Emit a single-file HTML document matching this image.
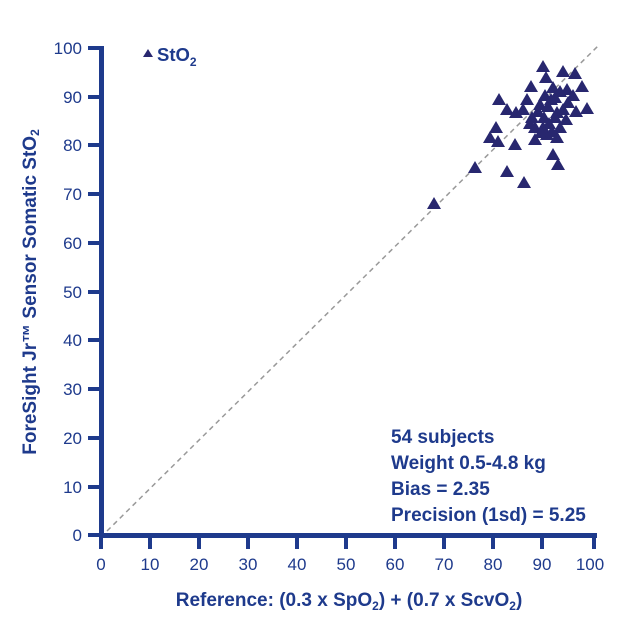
<!DOCTYPE html>
<html><head><meta charset="utf-8"><style>
html,body{margin:0;padding:0;background:#fff;}
svg{display:block;font-family:"Liberation Sans",sans-serif;}
</style></head><body>
<svg width="624" height="624" viewBox="0 0 624 624" xmlns="http://www.w3.org/2000/svg">
<defs><polygon id="t" points="0,-7 7,5 -7,5" fill="#28276f"/></defs>
<line x1="107" y1="531" x2="600" y2="44" stroke="#999" stroke-width="1.5" stroke-dasharray="5,4"/>
<g fill="#1e3a8c">
<rect x="99" y="46" width="5" height="492"/>
<rect x="99" y="533" width="498" height="5"/>
</g>
<g stroke="#1e3a8c" stroke-width="4">
<line x1="88" y1="48" x2="101" y2="48"/><line x1="88" y1="97" x2="101" y2="97"/>
<line x1="88" y1="145" x2="101" y2="145"/><line x1="88" y1="194" x2="101" y2="194"/>
<line x1="88" y1="243" x2="101" y2="243"/><line x1="88" y1="292" x2="101" y2="292"/>
<line x1="88" y1="340" x2="101" y2="340"/><line x1="88" y1="389" x2="101" y2="389"/>
<line x1="88" y1="438" x2="101" y2="438"/><line x1="88" y1="487" x2="101" y2="487"/>
<line x1="88" y1="535" x2="101" y2="535"/>
<line x1="101" y1="535" x2="101" y2="549"/><line x1="150" y1="535" x2="150" y2="549"/>
<line x1="199" y1="535" x2="199" y2="549"/><line x1="248" y1="535" x2="248" y2="549"/>
<line x1="297" y1="535" x2="297" y2="549"/><line x1="346" y1="535" x2="346" y2="549"/>
<line x1="395" y1="535" x2="395" y2="549"/><line x1="444" y1="535" x2="444" y2="549"/>
<line x1="493" y1="535" x2="493" y2="549"/><line x1="542" y1="535" x2="542" y2="549"/>
<line x1="594" y1="535" x2="594" y2="549"/>
</g>
<g fill="#1e3a8c" font-size="17" text-anchor="end">
<text x="82" y="54">100</text><text x="82" y="103">90</text><text x="82" y="151">80</text>
<text x="82" y="200">70</text><text x="82" y="249">60</text><text x="82" y="298">50</text>
<text x="82" y="346">40</text><text x="82" y="395">30</text><text x="82" y="444">20</text>
<text x="82" y="493">10</text><text x="82" y="541">0</text>
</g>
<g fill="#1e3a8c" font-size="17" text-anchor="middle">
<text x="101" y="570">0</text><text x="150" y="570">10</text><text x="199" y="570">20</text>
<text x="248" y="570">30</text><text x="297" y="570">40</text><text x="346" y="570">50</text>
<text x="395" y="570">60</text><text x="444" y="570">70</text><text x="493" y="570">80</text>
<text x="542" y="570">90</text><text x="590" y="570">100</text>
</g>
<g fill="#1e3a8c" font-weight="bold">
<text x="349" y="606" font-size="19" text-anchor="middle">Reference: (0.3 x SpO<tspan font-size="12" dy="4">2</tspan><tspan dy="-4">) + (0.7 x ScvO</tspan><tspan font-size="12" dy="4">2</tspan><tspan dy="-4">)</tspan></text>
<text transform="translate(36,292) rotate(-90)" font-size="19" text-anchor="middle">ForeSight Jr™ Sensor Somatic StO<tspan font-size="12" dy="3">2</tspan></text>
<text x="157" y="61" font-size="18.5">StO<tspan font-size="12" dy="5">2</tspan></text>
<g font-size="19">
<text x="391" y="443">54 subjects</text>
<text x="391" y="469">Weight 0.5-4.8 kg</text>
<text x="391" y="495">Bias = 2.35</text>
<text x="391" y="521">Precision (1sd) = 5.25</text>
</g>
</g>
<polygon points="148,49 153,57 143,57" fill="#28276f"/>
<g>
<use href="#t" x="543" y="67"/><use href="#t" x="563" y="72"/><use href="#t" x="575" y="74"/>
<use href="#t" x="546" y="78"/><use href="#t" x="582" y="87"/><use href="#t" x="553" y="88"/>
<use href="#t" x="531" y="87"/><use href="#t" x="567" y="90"/><use href="#t" x="560" y="92"/>
<use href="#t" x="499" y="100"/><use href="#t" x="527" y="100"/><use href="#t" x="540" y="105"/>
<use href="#t" x="568" y="103"/><use href="#t" x="587" y="109"/><use href="#t" x="576" y="112"/>
<use href="#t" x="507" y="110"/><use href="#t" x="516" y="113"/><use href="#t" x="523" y="110"/>
<use href="#t" x="538" y="112"/><use href="#t" x="548" y="107"/><use href="#t" x="557" y="113"/>
<use href="#t" x="563" y="110"/><use href="#t" x="532" y="118"/><use href="#t" x="555" y="118"/>
<use href="#t" x="535" y="128"/><use href="#t" x="543" y="128"/><use href="#t" x="560" y="128"/>
<use href="#t" x="496" y="128"/><use href="#t" x="547" y="135"/><use href="#t" x="557" y="138"/>
<use href="#t" x="490" y="138"/><use href="#t" x="498" y="142"/><use href="#t" x="515" y="145"/>
<use href="#t" x="535" y="140"/><use href="#t" x="553" y="155"/><use href="#t" x="558" y="165"/>
<use href="#t" x="475" y="168"/><use href="#t" x="507" y="172"/><use href="#t" x="524" y="183"/>
<use href="#t" x="434" y="204"/><use href="#t" x="545" y="96"/><use href="#t" x="551" y="100"/>
<use href="#t" x="544" y="118"/><use href="#t" x="549" y="124"/><use href="#t" x="541" y="133"/>
<use href="#t" x="552" y="132"/><use href="#t" x="530" y="124"/><use href="#t" x="566" y="120"/>
<use href="#t" x="573" y="96"/><use href="#t" x="555" y="98"/>
</g>
</svg>
</body></html>
